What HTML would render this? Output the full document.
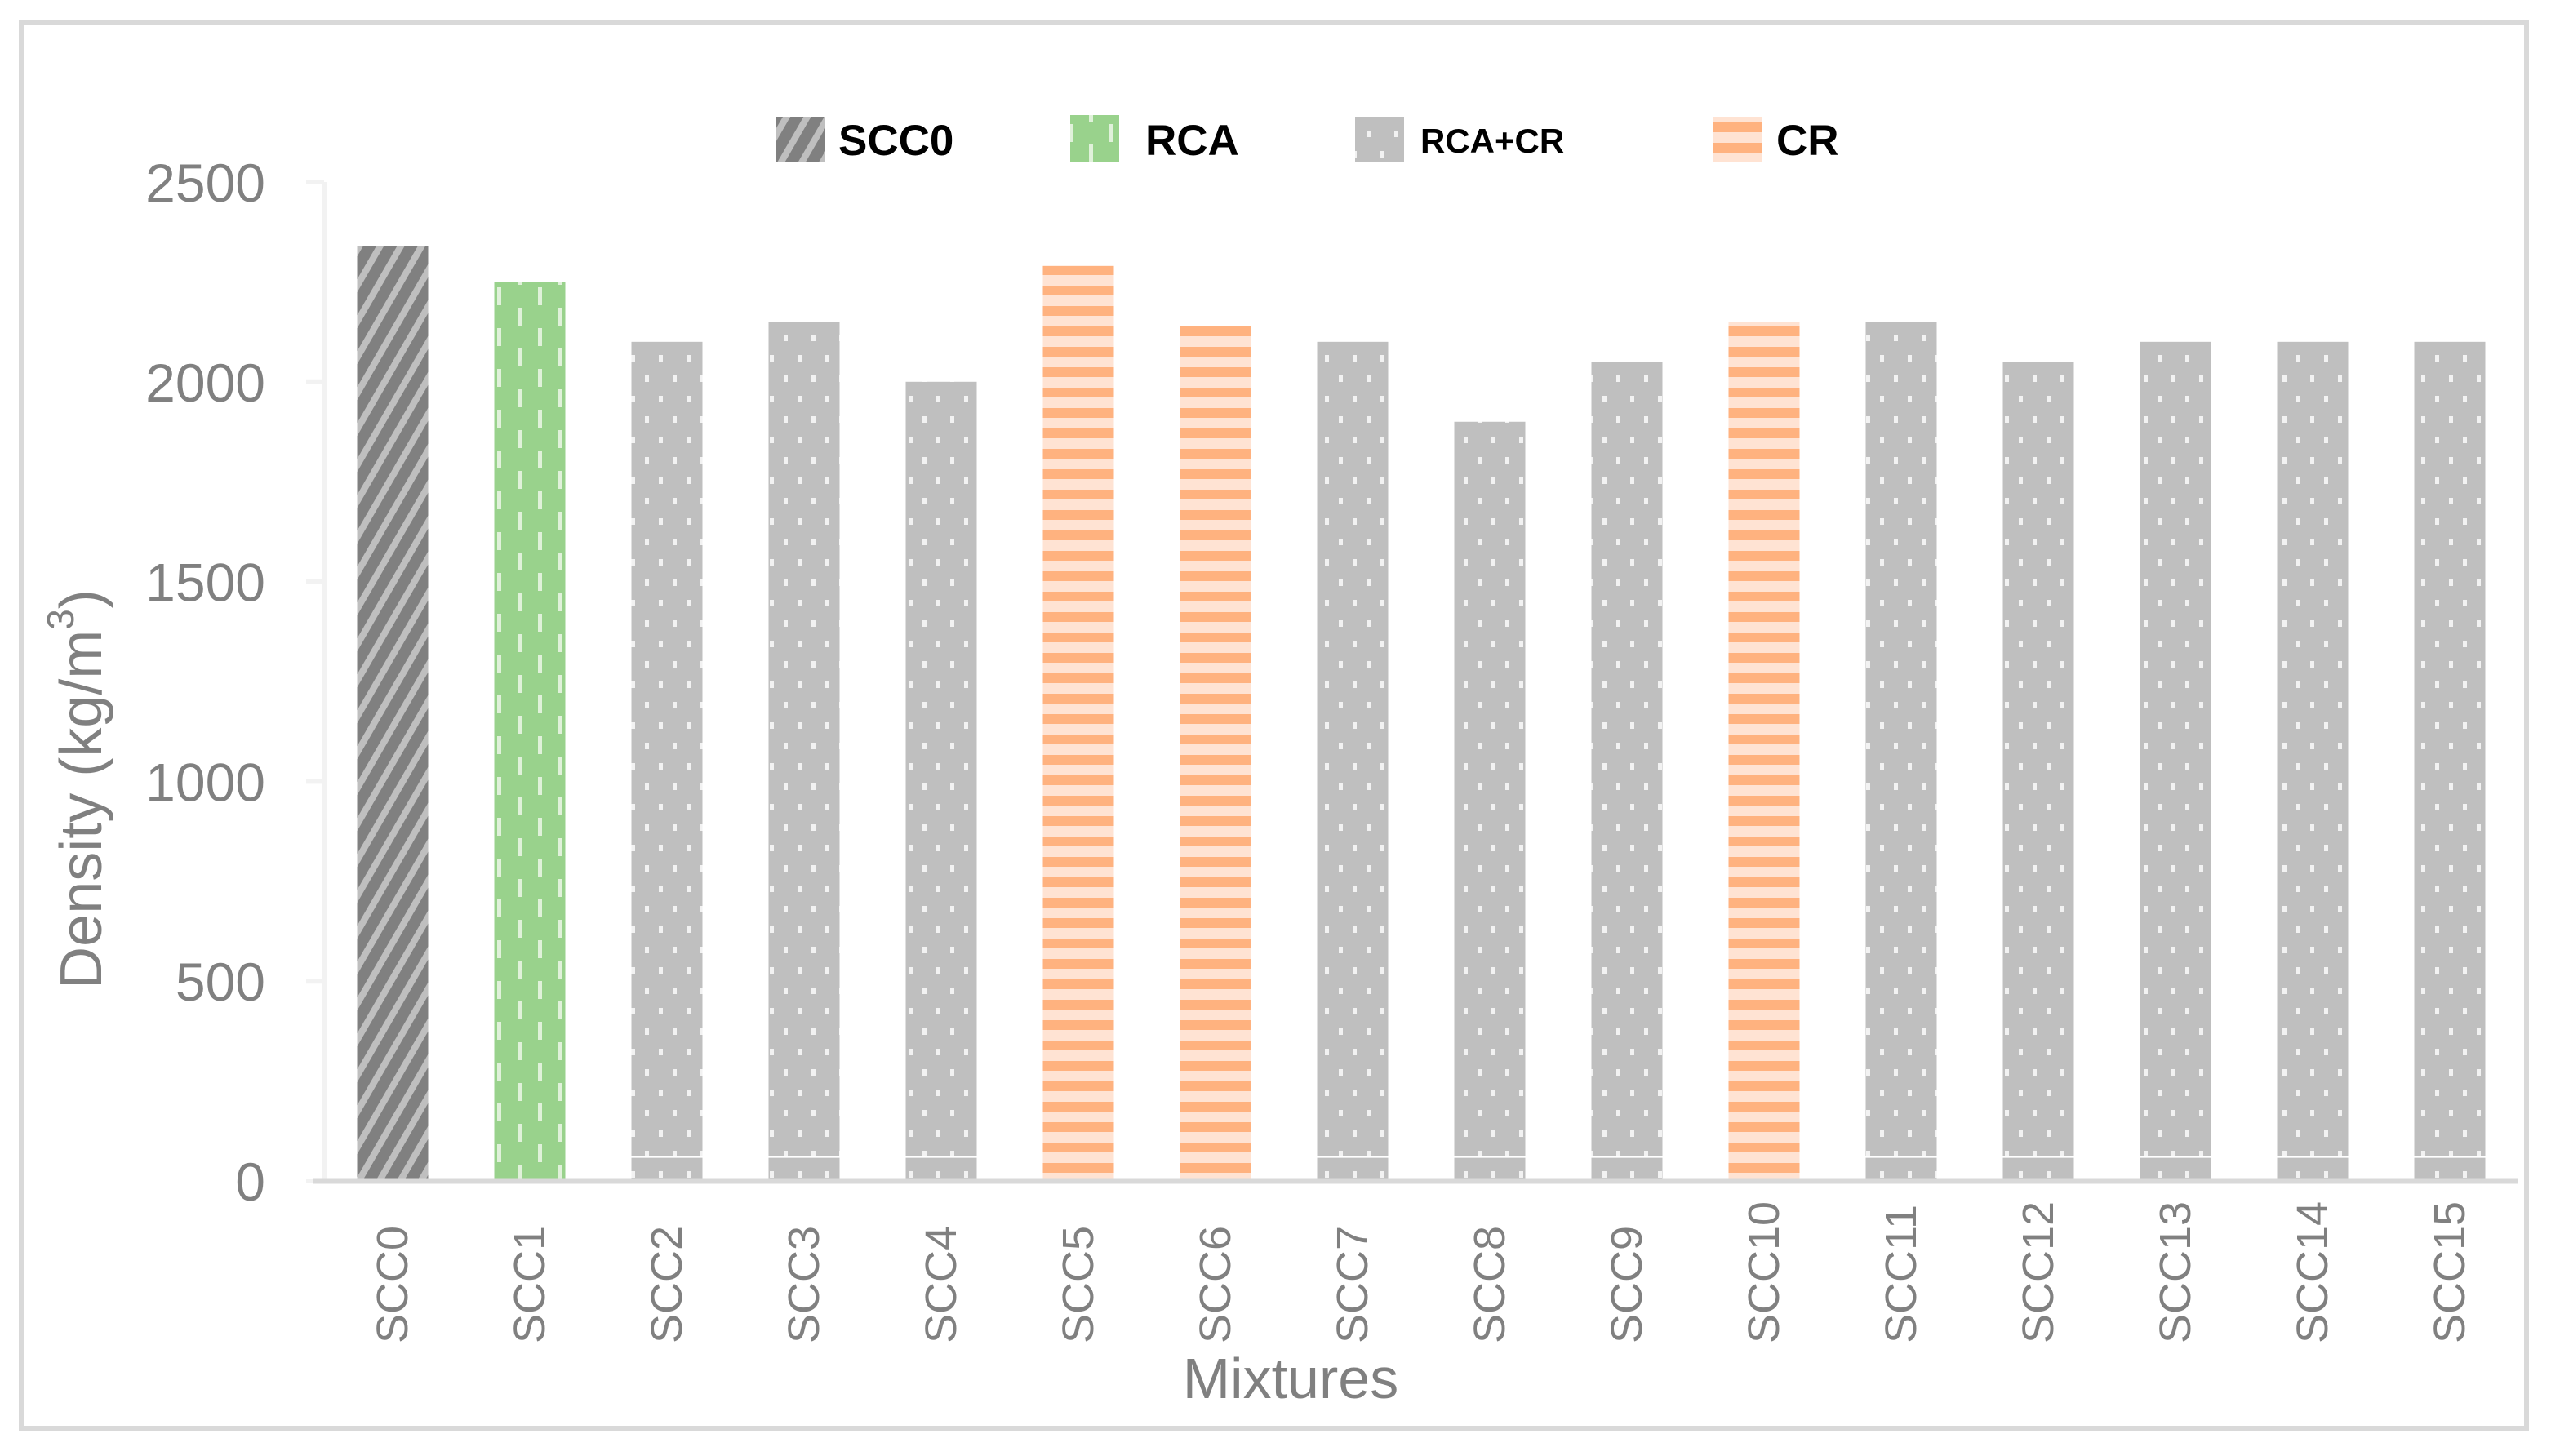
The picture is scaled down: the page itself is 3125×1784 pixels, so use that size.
<!DOCTYPE html>
<html><head><meta charset="utf-8"><style>
html,body{margin:0;padding:0;background:#fff;}
svg{display:block;font-family:"Liberation Sans",sans-serif;}
</style></head><body>
<svg id="chart" width="3125" height="1784" viewBox="0 0 3125 1784" xmlns="http://www.w3.org/2000/svg">
<defs>
<pattern id="pDiag" patternUnits="userSpaceOnUse" width="22" height="22" patternTransform="rotate(30)">
<rect width="22" height="22" fill="#808080"/><rect width="8" height="22" fill="#bfbfbf"/>
</pattern>
<pattern id="pDash" patternUnits="userSpaceOnUse" width="50" height="50">
<rect width="50" height="50" fill="#99d28c"/>
<rect x="9" y="2" width="5" height="22" fill="#e0f1da"/><rect x="34" y="27" width="5" height="22" fill="#e0f1da"/>
</pattern>
<pattern id="pDot" patternUnits="userSpaceOnUse" width="34" height="50">
<rect width="34" height="50" fill="#bfbfbf"/>
<rect x="8" y="10" width="5" height="8" fill="#f2f2f2"/><rect x="25" y="35" width="5" height="8" fill="#f2f2f2"/>
</pattern>
<pattern id="pHor" patternUnits="userSpaceOnUse" width="25" height="25">
<rect width="25" height="25" fill="#ffe3d3"/><rect y="0" width="25" height="12" fill="#ffb27f"/>
</pattern>
</defs>
<rect x="26" y="28" width="3069" height="1722" fill="none" stroke="#d9d9d9" stroke-width="6"/>
<g id="legend">
<g><rect x="951" y="143" width="60" height="56" fill="url(#pDiag)"/><text x="1027" y="190" font-size="53" font-weight="bold" fill="#000">SCC0</text></g>
<g><rect x="1311" y="141" width="60" height="58" fill="url(#pDash)"/><text x="1403" y="190" font-size="53" font-weight="bold" fill="#000">RCA</text></g>
<g><rect x="1660" y="143" width="60" height="56" fill="url(#pDot)"/><text x="1740" y="187" font-size="42" font-weight="bold" fill="#000">RCA+CR</text></g>
<g><rect x="2099" y="143" width="60" height="56" fill="url(#pHor)"/><text x="2176" y="190" font-size="53" font-weight="bold" fill="#000">CR</text></g>
</g>
<g id="yticks"></g>
<g id="bars"></g>
<g id="xticks"></g>
<line x1="397" y1="223" x2="397" y2="1447" stroke="#f2f2f2" stroke-width="6"/>
<line x1="384" y1="1447" x2="3085" y2="1447" stroke="#d9d9d9" stroke-width="7"/>
<text x="100" y="967" font-size="72" fill="#808080" text-anchor="middle" dominant-baseline="central" transform="rotate(-90 100 967)">Density (kg/m<tspan baseline-shift="super" font-size="46">3</tspan>)</text>
<text x="1581" y="1713" font-size="70" fill="#808080" text-anchor="middle">Mixtures</text>
</svg>
<script>
const categories = ["SCC0","SCC1","SCC2","SCC3","SCC4","SCC5","SCC6","SCC7","SCC8","SCC9","SCC10","SCC11","SCC12","SCC13","SCC14","SCC15"];
const densities = [2340,2250,2100,2150,2000,2290,2140,2100,1900,2050,2150,2150,2050,2100,2100,2100];
const groups = ["SCC0","RCA","RCA+CR","RCA+CR","RCA+CR","CR","CR","RCA+CR","RCA+CR","RCA+CR","CR","RCA+CR","RCA+CR","RCA+CR","RCA+CR","RCA+CR"];
const yTicks = [0,500,1000,1500,2000,2500];

const NS = "http://www.w3.org/2000/svg";
const X0 = 397, PITCH = 168, BW = 87, Y0 = 1447, YTOP = 223, YMAX = 2500;
const fills = {"SCC0":"url(#pDiag)","RCA":"url(#pDash)","RCA+CR":"url(#pDot)","CR":"url(#pHor)"};
function yScale(v){ return Y0 - (v / YMAX) * (Y0 - YTOP); }
function xCenter(i){ return X0 + PITCH * (i + 0.5); }
function mk(tag, attrs, parent){ const e = document.createElementNS(NS, tag); for (const k in attrs) e.setAttribute(k, attrs[k]); parent.appendChild(e); return e; }

const yg = document.getElementById('yticks');
yTicks.forEach(t => {
  const y = yScale(t);
  const tk = mk('line', {x1: X0 - 22, y1: y, x2: X0, y2: y, stroke: '#f2f2f2', 'stroke-width': 6}, yg);
  
  
  const tx = mk('text', {x: 325, y: y + 24, 'font-size': 66, fill: '#808080', 'text-anchor': 'end'}, yg);
  
  
  tx.textContent = t;
});

const bg = document.getElementById('bars');
const xg = document.getElementById('xticks');
categories.forEach((c, i) => {
  const cx = xCenter(i);
  const top = yScale(densities[i]);
  const r = mk('rect', {x: cx - BW / 2, y: top, width: BW, height: Y0 - top, fill: fills[groups[i]]}, bg);
  
  
  if (groups[i] === 'RCA+CR') {
    const l = mk('line', {x1: cx - BW / 2, y1: yScale(60), x2: cx + BW / 2, y2: yScale(60), stroke: '#ffffff', 'stroke-width': 2}, bg);
    
    
  }
  const t = mk('text', {x: cx, y: 1646, 'font-size': 54, fill: '#808080', transform: 'rotate(-90 ' + cx + ' 1646)', 'dominant-baseline': 'central'}, xg);
  
  
  t.textContent = c;
});
</script>
</body></html>
